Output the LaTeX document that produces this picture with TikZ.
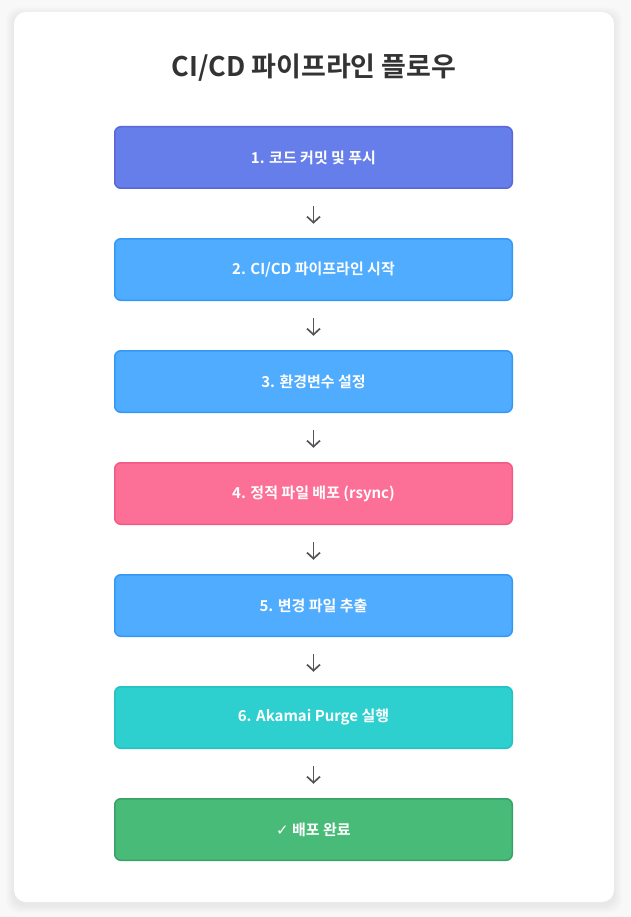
\documentclass[tikz,border=0pt]{standalone}
\usepackage{fontspec}
\setmainfont{Noto Sans CJK KR}[BoldFont={* Bold}]
\newfontfamily\symfont{DejaVu Sans}
\usetikzlibrary{positioning,arrows.meta}

\definecolor{pagebg}{HTML}{F8F8F8}
\definecolor{titlegray}{HTML}{333333}
\definecolor{arrowgray}{HTML}{555555}
\definecolor{purplefill}{HTML}{667EEA}
\definecolor{purpleline}{HTML}{5A67D8}
\definecolor{bluefill}{HTML}{4FACFE}
\definecolor{blueline}{HTML}{3399F5}
\definecolor{pinkfill}{HTML}{FC7098}
\definecolor{pinkline}{HTML}{F25A85}
\definecolor{tealfill}{HTML}{2ECFCF}
\definecolor{tealline}{HTML}{26C1C1}
\definecolor{greenfill}{HTML}{48BB78}
\definecolor{greenline}{HTML}{38A169}

\begin{document}
\begin{tikzpicture}[x=1pt,y=-1pt,
  node distance=50.5pt,
  stepbox/.style={draw, line width=1.5pt, rounded corners=6pt, minimum width=397.5pt, minimum height=61.5pt, outer sep=0pt, text=white, font=\fontsize{15}{18}\selectfont\bfseries},
  flow/.style={-{Straight Barb[length=6pt,width=13pt,line width=1.7pt]}, line width=1.7pt, color=arrowgray, shorten <=18pt, shorten >=15pt}]
\useasboundingbox (0,0) rectangle (630,917);
\fill[pagebg] (0,0) rectangle (630,917);

% card with soft shadow
\foreach \s in {1,...,8}{
	\fill[black, opacity=0.007, rounded corners=12pt] (14-\s,12-\s+3) rectangle (614+\s,902+\s+3);
}
\fill[white, rounded corners=12pt] (14,12) rectangle (614,902);

\node[text=titlegray, font=\fontsize{27}{32}\selectfont\bfseries] (title) at (314,68) {CI/CD 파이프라인 플로우};

\node[stepbox, fill=purplefill, draw=purpleline] (s1) at (313.5,157.5) {1. 코드 커밋 및 푸시};
\node[stepbox, fill=bluefill, draw=blueline, below=of s1] (s2) {2. CI/CD 파이프라인 시작};
\node[stepbox, fill=bluefill, draw=blueline, below=of s2] (s3) {3. 환경변수 설정};
\node[stepbox, fill=pinkfill, draw=pinkline, below=of s3] (s4) {4. 정적 파일 배포 (rsync)};
\node[stepbox, fill=bluefill, draw=blueline, below=of s4] (s5) {5. 변경 파일 추출};
\node[stepbox, fill=tealfill, draw=tealline, below=of s5] (s6) {6. Akamai Purge 실행};
\node[stepbox, fill=greenfill, draw=greenline, below=of s6] (s7) {{\symfont ✓} 배포 완료};

\foreach \a/\b in {1/2,2/3,3/4,4/5,5/6,6/7}{
	\draw[flow] (s\a) -- (s\b);
}

\end{tikzpicture}
\end{document}
